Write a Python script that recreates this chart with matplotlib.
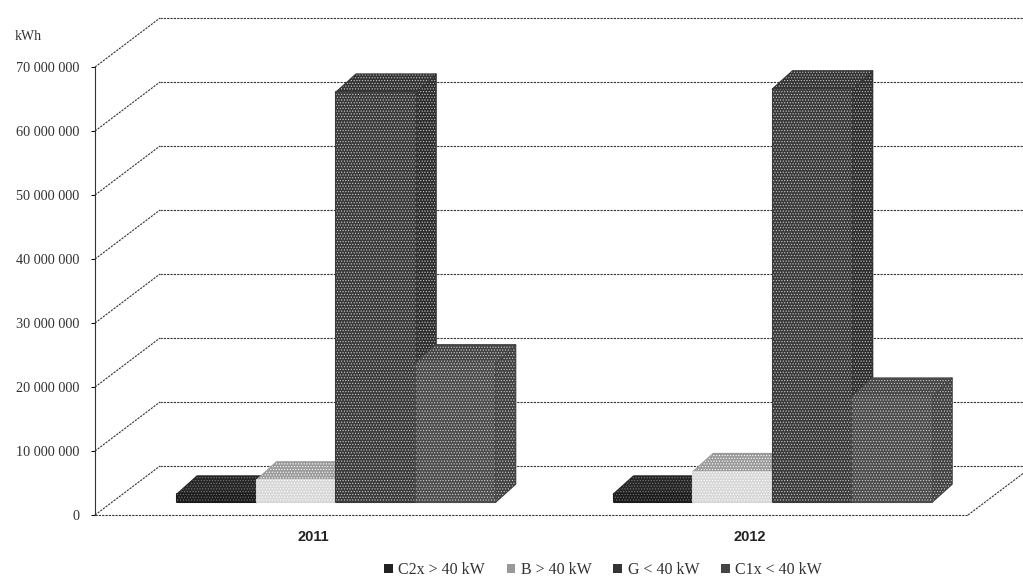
import matplotlib
matplotlib.use("Agg")
import matplotlib.pyplot as plt
from matplotlib.patches import Polygon, Patch

plt.rcParams["font.family"] = ["Liberation Serif", "DejaVu Serif"]
plt.rcParams["hatch.linewidth"] = 0.5

years = ["2011", "2012"]
series = ["C2x > 40 kW", "B > 40 kW", "G < 40 kW", "C1x < 40 kW"]
c2x = [1200000, 1200000]
b = [3400000, 4700000]
g = [64000000, 64500000]
c1x = [21700000, 16500000]
yticks = [0, 10000000, 20000000, 30000000, 40000000, 50000000, 60000000, 70000000]
ytick_labels = ["0", "10 000 000", "20 000 000", "30 000 000", "40 000 000",
                "50 000 000", "60 000 000", "70 000 000"]

# front, top, side shades per series
shades = [("#1c1c1c", "#262626", "#141414"),
          ("#d8d8d8", "#9a9a9a", "#808080"),
          ("#3a3a3a", "#333333", "#2c2c2c"),
          ("#4c4c4c", "#444444", "#404040")]
specks = ["#777777", "#ffffff", "#c8c8c8", "#d0d0d0"]

W, H = 1023, 578
fig = plt.figure(figsize=(W / 100, H / 100), dpi=100)
ax = fig.add_axes([95 / W, (H - 515) / H, 873 / W, 448 / H])
ax.set_xlim(-0.5, 1.5)
ax.set_ylim(0, 70000000)

# pixels to data units, the fake 3D is all offsets
px = 2 / 873
py = 10000000 / 64
wall_dx, wall_dy = 65 * px, 49 * py
bar_dx, bar_dy = 23 * px, 13 * py
depth_x, depth_y = 20 * px, 18 * py
bar_w = 79.5 * px

grid = dict(color="#333333", lw=0.8, ls=(0, (2, 1)), clip_on=False, zorder=1)
for v in yticks:
    ax.plot([-0.5, -0.5 + wall_dx], [v, v + wall_dy], **grid)
    ax.plot([-0.5 + wall_dx, 1.5 + wall_dx], [v + wall_dy, v + wall_dy], **grid)
ax.plot([1.5, 1.5 + wall_dx], [0, wall_dy], **grid)
ax.plot([-0.5, 1.5], [0, 0], **grid)


def face(pts, color, speck):
    ax.add_patch(Polygon(pts, closed=True, facecolor=color, edgecolor=color,
                         lw=1.5, joinstyle="round", clip_on=False, zorder=3))
    ax.add_patch(Polygon(pts, closed=True, facecolor="none", edgecolor=speck,
                         lw=0, hatch="......", clip_on=False, zorder=3))


for i in range(len(years)):
    vals = [c2x[i], b[i], g[i], c1x[i]]
    for j, v in enumerate(vals):
        x0 = i + bar_dx - 2 * bar_w + j * bar_w
        x1 = x0 + bar_w
        y0 = bar_dy
        y1 = bar_dy + v
        front, top, side = shades[j]
        face([(x1, y0), (x1 + depth_x, y0 + depth_y), (x1 + depth_x, y1 + depth_y), (x1, y1)], side, specks[j])
        face([(x0, y1), (x1, y1), (x1 + depth_x, y1 + depth_y), (x0 + depth_x, y1 + depth_y)], top, specks[j])
        face([(x0, y0), (x1, y0), (x1, y1), (x0, y1)], front, specks[j])

ax.set_yticks(yticks)
ax.set_yticklabels(ytick_labels, fontsize=10.3, color="#333333")
ax.set_xticks([0, 1])
ax.set_xticklabels(years, fontsize=10.5, fontweight="bold", family="Liberation Sans", color="#222222")
ax.tick_params(axis="y", length=3, width=0.7, pad=8.5)
ax.tick_params(axis="x", length=0, pad=11)
for s in ["top", "right", "bottom"]:
    ax.spines[s].set_visible(False)
ax.spines["left"].set(linestyle=(0, (2, 1)), linewidth=0.8, color="#333333")
ax.patch.set_visible(False)

fig.text(15 / W, 1 - 36 / H, "kWh", fontsize=10, va="center", color="#333333")

handles = [Patch(facecolor=c, edgecolor="none", hatch="....") for c in
           ["#222222", "#999999", "#333333", "#444444"]]
fig.legend(handles, series, ncols=4, frameon=False, fontsize=11.5,
           loc="center", bbox_to_anchor=(603 / W, 1 - 570 / H),
           handlelength=0.55, handleheight=0.55, handletextpad=0.35,
           columnspacing=1.35, labelcolor="#333333", borderpad=0)

fig.savefig("out.png", dpi=100)
